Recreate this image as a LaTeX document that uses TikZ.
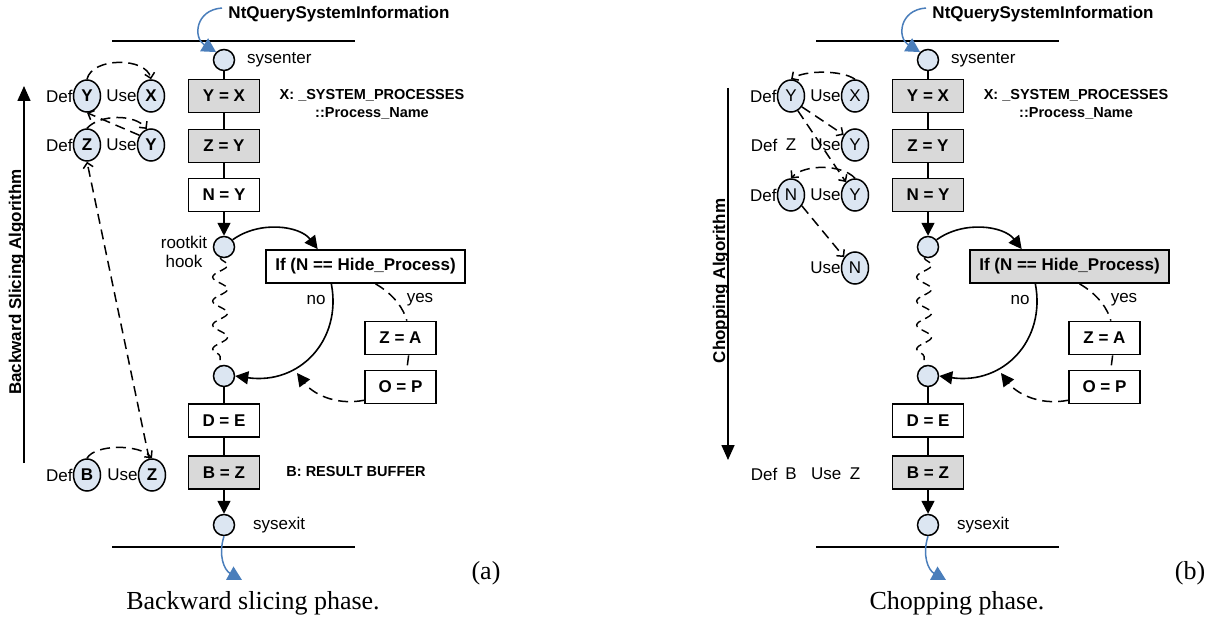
\documentclass[tikz,border=0pt]{standalone}
\usepackage{fontspec}
\setmainfont{Liberation Sans}
\newfontfamily\capfont{Liberation Serif}
\usetikzlibrary{arrows.meta,shapes.geometric,decorations.pathmorphing}
\definecolor{circblue}{HTML}{DCE6F2}
\definecolor{boxgray}{HTML}{D9D9D9}
\definecolor{arrblue}{HTML}{4A7EBB}
\newcommand\fs[2]{\fontsize{#1}{#2}\selectfont}
\tikzset{
  box/.style={draw, line width=1.8pt, minimum width=71pt, minimum height=33pt, inner sep=0pt, font=\bfseries\fs{17}{19}},
  gbox/.style={box, fill=boxgray},
  circ/.style={circle, draw, fill=circblue, minimum size=21pt, inner sep=0pt, line width=1.5pt},
  var/.style={ellipse, draw, fill=circblue, minimum width=27pt, minimum height=32pt, inner sep=0pt, line width=1.5pt, font=\fs{17}{19}},
  bvar/.style={var, font=\bfseries\fs{17}{19}},
  lbl/.style={font=\fs{17}{19}, inner sep=0pt},
  note/.style={font=\bfseries\fs{14.5}{18}, inner sep=0pt, align=center},
  flow/.style={line width=1.6pt},
  flowarr/.style={line width=1.6pt, -{Triangle[length=13pt,width=13pt]}},
  dline/.style={dash pattern=on 10pt off 6pt, line width=1.5pt},
  dep/.style={dline, -{Straight Barb[length=5pt,width=10pt]}},
  bluearr/.style={arrblue, line width=1.5pt, -{Triangle[length=14pt,width=15pt]}},
  captxt/.style={font=\capfont\fs{26}{30}, inner sep=0pt},
  algarr/.style={line width=1.6pt, -{Triangle[length=15pt,width=13pt]}},
  algtxt/.style={font=\bfseries\fs{17}{19}, inner sep=0pt, rotate=90, anchor=base},
}
% #1 prefix, #2 shift, #3 style of N=Y, #4 style of If, #5 panel tag, #6 caption
\newcommand\panel[6]{%
\begin{scope}[xshift=#2pt]
  \draw[line width=1.6pt] (112,41) -- (355,41);
  \draw[line width=1.6pt] (112,547) -- (355,547);
  \node[lbl, font=\bfseries\fs{17}{19}] (#1nt) at (339,14) {NtQuerySystemInformation};
  \node[circ] (#1se) at (224,60) {};
  \node[lbl, anchor=west] (#1sel) at (247,60) {sysenter};
  \node[gbox] (#1b1) at (224,96) {Y = X};
  \node[note] (#1n1) at (372,104) {X: \_SYSTEM\_PROCESSES\\::Process\_Name};
  \node[gbox] (#1b2) at (224,146) {Z = Y};
  \node[#3] (#1b3) at (224,195) {N = Y};
  \node[circ] (#1rk) at (224,247) {};
  \node[#4, minimum width=199pt] (#1if) at (365.5,266.5) {If (N == Hide\_Process)};
  \node[box] (#1za) at (400.5,338) {Z = A};
  \node[box] (#1op) at (400.5,387) {O = P};
  \node[circ] (#1c2) at (224,376) {};
  \node[box] (#1de) at (224,420.5) {D = E};
  \node[gbox] (#1bz) at (224,472.5) {B = Z};
  \node[circ] (#1sx) at (224,525) {};
  \node[lbl, anchor=west] (#1sxl) at (253,525) {sysexit};
  \node[lbl] (#1no) at (316,300) {no};
  \node[lbl] (#1yes) at (420,300) {yes};
  \node[captxt] (#1tag) at (486,573) {#5};
  \node[captxt] (#1cap) at (253,603) {#6};
  \coordinate (#1in) at (222,8);
  \coordinate (#1out) at (242,580);
  \coordinate (#1mg) at (297,373);
  \draw[flow] (#1se) -- (#1b1);
  \draw[flow] (#1b1) -- (#1b2);
  \draw[flow] (#1b2) -- (#1b3);
  \draw[flowarr] (#1b3) -- (#1rk);
  \draw[flowarr] (#1rk.40) .. controls (260,220) and (300,226) .. (#1if.160);
  \draw[flowarr] (#1if.207) .. controls (342,340) and (300,385) .. (#1c2.east);
  \draw[dash pattern=on 8pt off 5pt, line width=1.4pt, decorate,
        decoration={snake, amplitude=7.5pt, segment length=24pt}] (#1rk.250) -- (#1c2.110);
  \draw[dline] (#1if.-60) .. controls (395,295) and (404,310) .. (#1za.70);
  \draw[dline] (#1za.-65) -- (#1op.70);
  \draw[dline, -{Triangle[length=13pt,width=13pt]}] (#1op.-160) .. controls (335,406) and (312,393) .. (#1mg);
  \draw[flow] (#1c2) -- (#1de);
  \draw[flow] (#1de) -- (#1bz);
  \draw[flowarr] (#1bz) -- (#1sx);
  \draw[bluearr] (#1in) .. controls (195,10) and (193,38) .. (#1se.135);
  \draw[bluearr] (#1sx.south) .. controls (218,555) and (224,570) .. (#1out);
\end{scope}}

\begin{document}
\begin{tikzpicture}[x=1pt,y=-1pt]
\useasboundingbox[fill=white] (0,0) rectangle (1217,623);

\panel{a}{0}{box}{box}{(a)}{Backward slicing phase.}
\panel{b}{704}{gbox}{gbox}{(b)}{Chopping phase.}

\node[lbl, align=center] (arkl) at (184,252) {rootkit\\hook};
\node[note] (an2) at (356,472) {B: RESULT BUFFER};

% ---------- panel (a) left: backward slicing ----------
\coordinate (aal0) at (24,463);
\coordinate (aal1) at (24,86);
\draw[algarr] (aal0) -- (aal1);
\node[algtxt] (aalt) at (21,282) {Backward Slicing Algorithm};

\node[bvar] (aY1) at (87,96) {Y};
\node[bvar] (aX1) at (151,96) {X};
\node[bvar] (aZ2) at (87,145) {Z};
\node[bvar] (aY2) at (151,145) {Y};
\node[bvar] (aB) at (87,475) {B};
\node[bvar] (aZB) at (152,475) {Z};
\node[lbl, anchor=east] (aD1) at (aY1.west) {Def};
\node[lbl, anchor=east] (aU1) at (aX1.west) {Use};
\node[lbl, anchor=east] (aD2) at (aZ2.west) {Def};
\node[lbl, anchor=east] (aU2) at (aY2.west) {Use};
\node[lbl, anchor=east] (aDB) at (aB.west) {Def};
\node[lbl, anchor=east] (aUB) at (aZB.west) {Use};

\draw[dep] (aY1.north) .. controls (92,57) and (146,57) .. (aX1.north);
\draw[dep] (aY2.140) -- (aY1.south);
\draw[dep] (aZ2.north) .. controls (100,114) and (135,114) .. (aY2.105);
\draw[dep] (aZB.100) -- (aZ2.south);
\draw[dep] (aB.north) .. controls (95,444) and (140,444) .. (aZB.north);

% ---------- panel (b) left: chopping ----------
\coordinate (bal0) at (728,88);
\coordinate (bal1) at (728,460);
\draw[algarr] (bal0) -- (bal1);
\node[algtxt] (balt) at (725,281) {Chopping Algorithm};

\node[var] (bY1) at (791,96) {Y};
\node[var] (bX1) at (855,96) {X};
\node[var] (bY2) at (855,145) {Y};
\node[var] (bN3) at (791,195) {N};
\node[var] (bY3) at (855,195) {Y};
\node[var] (bN4) at (855,268) {N};
\node[lbl, anchor=east] (bD1) at (bY1.west) {Def};
\node[lbl, anchor=east] (bU1) at (bX1.west) {Use};
\node[lbl, anchor=east] (bD2) at (777.5,145) {Def};
\node[lbl] (bZ2) at (791,145) {Z};
\node[lbl, anchor=east] (bU2) at (bY2.west) {Use};
\node[lbl, anchor=east] (bD3) at (bN3.west) {Def};
\node[lbl, anchor=east] (bU3) at (bY3.west) {Use};
\node[lbl, anchor=east] (bU4) at (bN4.west) {Use};
\node[lbl, anchor=east] (bDB) at (777.5,474) {Def};
\node[lbl] (bBB) at (791,474) {B};
\node[lbl, anchor=east] (bUB) at (841.5,474) {Use};
\node[lbl] (bZB) at (855,474) {Z};

\draw[dep] (bX1.north) .. controls (842,70) and (805,70) .. (bY1.north);
\draw[dep] (bY1.-45) -- (bY2.138);
\draw[dep] (bY1.-65) -- (bY3.125);
\draw[dep] (bY3.north) .. controls (842,164) and (804,164) .. (bN3.north);
\draw[dep] (bN3.-45) -- (bN4.135);
\end{tikzpicture}
\end{document}
